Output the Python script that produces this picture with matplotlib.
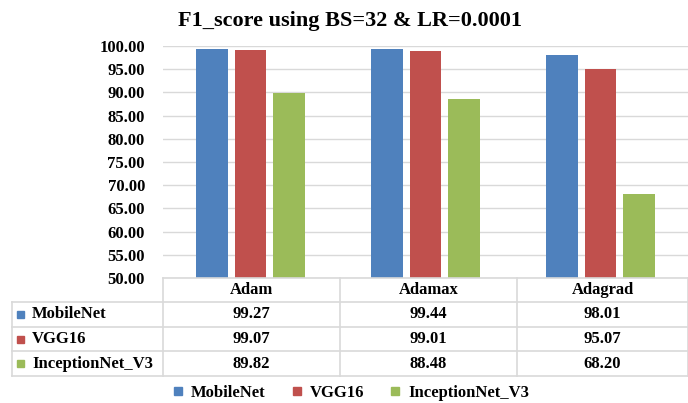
import matplotlib
matplotlib.use("Agg")
import matplotlib.pyplot as plt
from matplotlib.lines import Line2D
from matplotlib.patches import Rectangle
import numpy as np

optimizers = ["Adam", "Adamax", "Adagrad"]
series_names = ["MobileNet", "VGG16", "InceptionNet_V3"]
mobilenet = [99.27, 99.44, 98.01]
vgg16 = [99.07, 99.01, 95.07]
inception_v3 = [89.82, 88.48, 68.20]
yticks = [50, 55, 60, 65, 70, 75, 80, 85, 90, 95, 100]
title = "F1_score using BS=32 & LR=0.0001"

colors = ["#4F81BD", "#C0504D", "#9BBB59"]
series = [mobilenet, vgg16, inception_v3]

plt.rcParams["font.family"] = ["Liberation Serif", "DejaVu Serif"]
plt.rcParams["font.weight"] = "bold"

W, H = 688, 403
fig = plt.figure(figsize=(W / 100, H / 100), dpi=100)

def fx(px):
    return px / W

def fy(py):
    return 1 - py / H

ax_left, ax_right, ax_top, ax_bottom = 163, 688, 46, 278
ax = fig.add_axes([fx(ax_left), fy(ax_bottom), fx(ax_right) - fx(ax_left), fy(ax_top) - fy(ax_bottom)])

x = np.arange(len(optimizers))
bw = 0.18
gap = 0.04
offsets = [-(bw + gap), 0, bw + gap]
for vals, col, off in zip(series, colors, offsets):
    ax.bar(x + off, vals, width=bw, color=col, zorder=3)

ax.set_xlim(-0.5, len(optimizers) - 0.5)
ax.set_ylim(50, 100)
ax.set_yticks(yticks)
ax.set_yticklabels([f"{t:.2f}" for t in yticks], fontsize=12, fontweight="bold")
ax.tick_params(axis="y", length=0, pad=13)
ax.tick_params(axis="x", bottom=False, labelbottom=False)
ax.grid(axis="y", color="#D9D9D9", linewidth=1, zorder=0)
for s in ax.spines.values():
    s.set_visible(False)

fig.text(0.508, fy(21), title, ha="center", va="center", fontsize=16, fontweight="bold")

# data table under the axes
line_col = "#D9D9D9"
col_edges = [ax_left, 340, 517, ax_right]
row_edges = [ax_bottom, 302, 327, 351, 376]
label_left = 12

def hline(y, x0, x1):
    fig.add_artist(Line2D([fx(x0), fx(x1)], [fy(y), fy(y)], color=line_col, lw=1.2))

def vline(xp, y0, y1):
    fig.add_artist(Line2D([fx(xp), fx(xp)], [fy(y0), fy(y1)], color=line_col, lw=1.2))

hline(row_edges[0], ax_left, ax_right)
for y in row_edges[1:]:
    hline(y, label_left, ax_right)
vline(label_left, row_edges[1], row_edges[-1])
for xp in col_edges:
    vline(xp, row_edges[0], row_edges[-1])

for i, name in enumerate(optimizers):
    cx = (col_edges[i] + col_edges[i + 1]) / 2
    cy = (row_edges[0] + row_edges[1]) / 2
    fig.text(fx(cx), fy(cy), name, ha="center", va="center", fontsize=12, fontweight="bold")

for r, (name, vals, col) in enumerate(zip(series_names, series, colors)):
    cy = (row_edges[r + 1] + row_edges[r + 2]) / 2
    fig.add_artist(Rectangle((fx(17), fy(cy + 3.5)), fx(7), 7 / H, color=col,
                             transform=fig.transFigure))
    fig.text(fx(32), fy(cy), name, ha="left", va="center", fontsize=12, fontweight="bold")
    for i, v in enumerate(vals):
        cx = (col_edges[i] + col_edges[i + 1]) / 2
        fig.text(fx(cx), fy(cy), f"{v:.2f}", ha="center", va="center", fontsize=12, fontweight="bold")

# legend along the bottom
handles = [Line2D([], [], marker="s", linestyle="none", markersize=6, color=c) for c in colors]
fig.legend(handles, series_names, loc="center", bbox_to_anchor=(fx(351), fy(393)), ncol=3,
           frameon=False, handlelength=0.6, handletextpad=0.45, columnspacing=1.6,
           prop={"weight": "bold", "size": 12})

fig.savefig("out.png", dpi=100, facecolor="white")
